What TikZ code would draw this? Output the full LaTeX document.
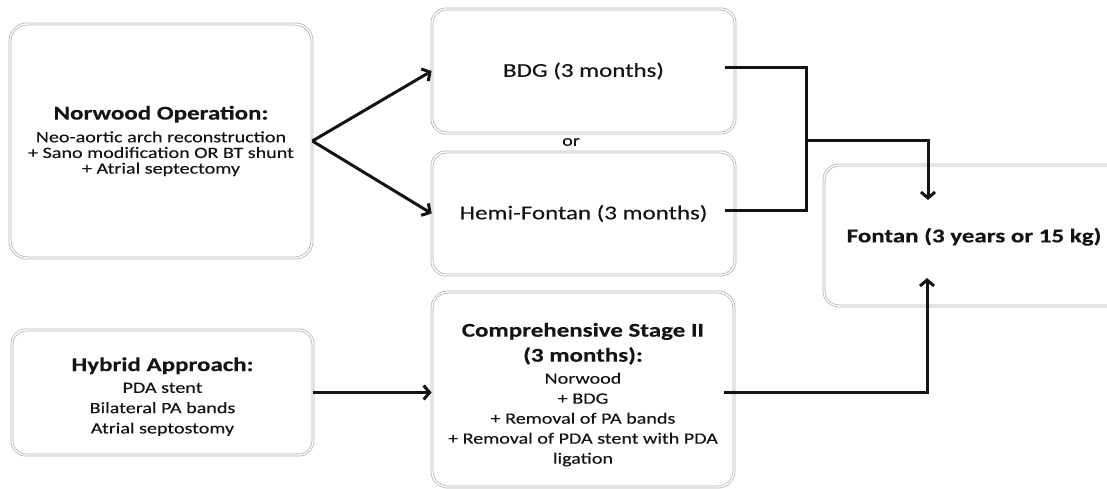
\documentclass[tikz,border=0pt]{standalone}
\usepackage{fontspec}
\setmainfont{Carlito}[FakeStretch=1.28,FakeBold=0.35]
\usetikzlibrary{arrows.meta,calc}
\newcommand\hdg{\bfseries\fontsize{19.5}{24}\selectfont}
\begin{document}
\begin{tikzpicture}[x=1pt,y=-1pt,
  box/.style={draw=black!30, line width=0.75pt, double=white, double distance=1.4pt,
    rounded corners=14pt, inner sep=0pt, align=center, text=black!92},
  conn/.style={line width=3pt, line join=miter, draw=black!92},
  arr/.style={conn, -{Straight Barb[length=6pt,width=14pt]}},
  ]
\useasboundingbox (0,0) rectangle (1107,489);

\node[box, minimum width=302pt, minimum height=234pt, rounded corners=17pt,
  font=\fontsize{15.7}{15.7}\selectfont] (nor) at (161,141)
  {{\hdg Norwood Operation:}\\[7pt] Neo-aortic arch reconstruction\\
   + Sano modification OR BT shunt\\ + Atrial septectomy};

\node[box, minimum width=303pt, minimum height=124pt,
  font=\fontsize{19.5}{24}\selectfont] (bdg) at (583.5,71) {BDG (3 months)};

\node[text=black!92, font=\fontsize{15.7}{20}\selectfont] (or) at (571,142) {or};

\node[box, minimum width=303pt, minimum height=123pt,
  font=\fontsize{19.5}{24}\selectfont] (hemi) at (583.5,213.5) {Hemi-Fontan (3 months)};

\node[box, minimum width=300pt, minimum height=141pt, rounded corners=15pt,
  font=\bfseries\fontsize{19.5}{24}\selectfont] (fontan) at (974,235.5)
  {\rule{0pt}{17pt}Fontan (3 years or 15 kg)};

\node[box, minimum width=301pt, minimum height=125pt,
  font=\fontsize{15.7}{20.3}\selectfont] (hyb) at (162.5,392.5)
  {{\hdg\rule{0pt}{22pt}Hybrid Approach:}\\[1.5pt] PDA stent\\ Bilateral PA bands\\ Atrial septostomy};

\node[box, minimum width=302pt, minimum height=195pt, rounded corners=16pt,
  font=\fontsize{15.7}{20}\selectfont] (comp) at (583,389.5)
  {{\hdg\rule{0pt}{24pt}Comprehensive Stage II}\\[5pt] {\hdg (3 months):}\\[2pt] Norwood\\ + BDG\\
   + Removal of PA bands\\ + Removal of PDA stent with PDA\\ ligation};

\coordinate (j) at (806,141);
\coordinate (ftop) at (928,200);
\coordinate (fbot) at (927,278);

\draw[arr] (nor.east) -- (bdg.west);
\draw[arr] (nor.east) -- (hemi.west);
\draw[conn] ($(bdg.east)+(-10,-3)$) -| (j);
\draw[conn] ($(hemi.east)+(-10,-3.5)$) -| (j);
\draw[arr] (j) -| (ftop);
\draw[arr] (hyb.east) -- (hyb.east -| comp.west);
\draw[arr] ($(comp.east |- hyb.east)+(-10,0)$) -| (fbot);
\end{tikzpicture}
\end{document}
